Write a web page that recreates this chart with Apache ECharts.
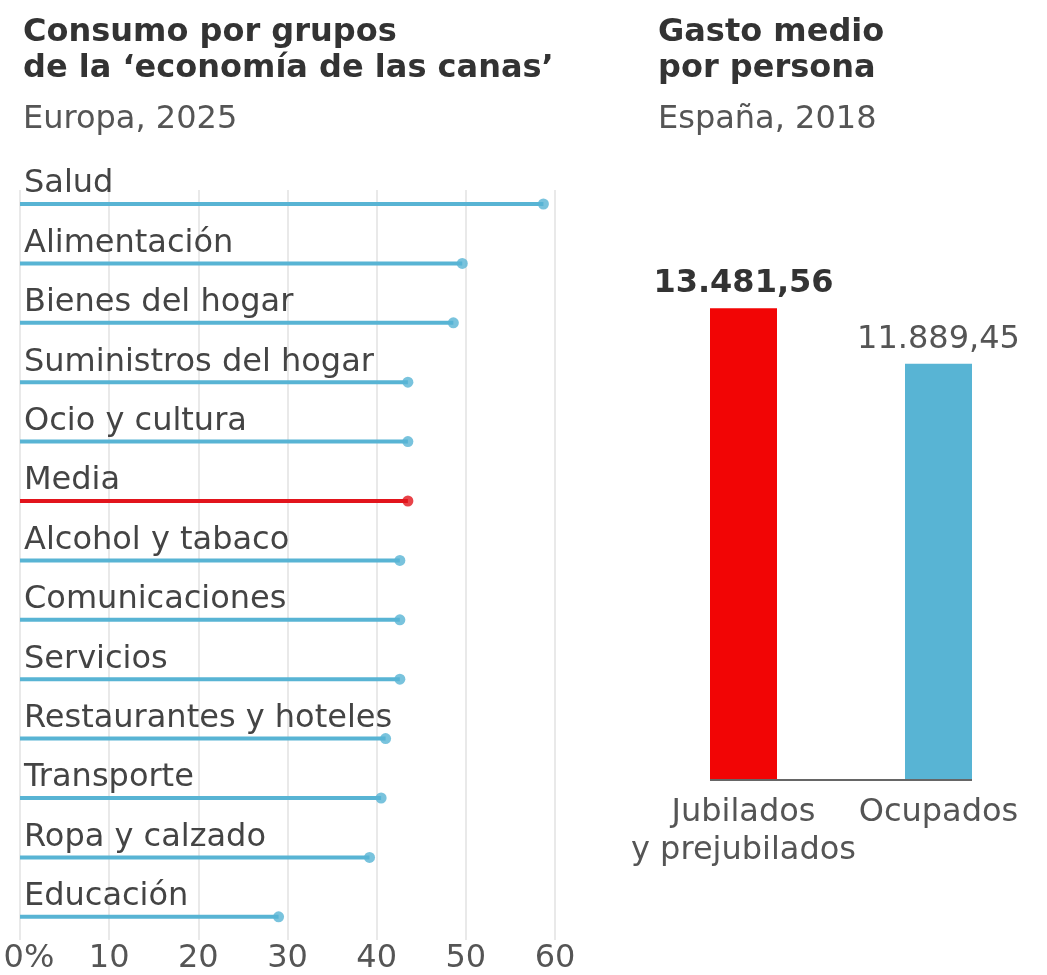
<!DOCTYPE html>
<html><head><meta charset="utf-8">
<script src="https://cdn.jsdelivr.net/npm/echarts@6/dist/echarts.min.js"></script>
<style>html,body{margin:0;padding:0;background:#fff}#c{width:1047px;height:975px}</style>
</head><body><div id="c"></div>
<script>
const categories = ['Salud','Alimentación','Bienes del hogar','Suministros del hogar','Ocio y cultura','Media','Alcohol y tabaco','Comunicaciones','Servicios','Restaurantes y hoteles','Transporte','Ropa y calzado','Educación'];
const consumo = [58.7, 49.6, 48.6, 43.5, 43.5, 43.5, 42.6, 42.6, 42.6, 41.0, 40.5, 39.2, 29.0];
const highlight = 'Media';
const gastoCats = ['Jubilados\ny prejubilados', 'Ocupados'];
const gasto = [13481.56, 11889.45];

const BLUE = '#58b4d4', RED = '#f20505', RED_LINE = '#e2141c';
const FONT = 'DejaVu Sans';
const FS = 32;
const BAR_W = 67;
function fmtEs(v){
  const p = v.toFixed(2).split('.');
  return p[0].replace(/\B(?=(\d{3})+(?!\d))/g, '.') + ',' + p[1];
}
const colorOf = c => c === highlight ? RED_LINE : BLUE;

const chart = echarts.init(document.getElementById('c'));
chart.setOption({
  animation: false,
  textStyle: {fontFamily: FONT},
  title: [
    {text: 'Consumo por grupos\nde la ‘economía de las canas’', subtext: 'Europa, 2025', left: 18, top: 10, itemGap: 15,
     textStyle: {fontFamily: FONT, fontSize: FS, fontWeight: 'bold', color: '#333', lineHeight: 36},
     subtextStyle: {fontFamily: FONT, fontSize: FS, color: '#555', lineHeight: 36}},
    {text: 'Gasto medio\npor persona', subtext: 'España, 2018', left: 653, top: 10, itemGap: 15,
     textStyle: {fontFamily: FONT, fontSize: FS, fontWeight: 'bold', color: '#333', lineHeight: 36},
     subtextStyle: {fontFamily: FONT, fontSize: FS, color: '#555', lineHeight: 36}}
  ],
  grid: [
    {left: 20, width: 535, top: 190, height: 750},
    {left: 20, width: 535, top: 174.3, height: 772.2},
    {left: 646, width: 390, top: 255, height: 525}
  ],
  xAxis: [
    {gridIndex: 0, type: 'value', min: 0, max: 60, interval: 10,
     axisLine: {show: false}, axisTick: {show: false},
     splitLine: {lineStyle: {color: '#e2e2e2', width: 1.5}},
     axisLabel: {fontFamily: FONT, fontSize: FS, color: '#555', margin: 3,
       formatter: v => v === 0 ? '{a|0%}' : String(v),
       rich: {a: {fontFamily: FONT, fontSize: FS, color: '#555', padding: [0, 0, 0, 18]}}}},
    {gridIndex: 1, type: 'value', min: 0, max: 60, show: false},
    {gridIndex: 2, type: 'category', data: gastoCats,
     axisLine: {show: false}, axisTick: {show: false},
     axisLabel: {interval: 0, hideOverlap: false, fontFamily: FONT, fontSize: FS, color: '#555', lineHeight: 38, margin: 14}}
  ],
  yAxis: [
    {gridIndex: 0, type: 'value', show: false},
    {gridIndex: 1, type: 'category', data: categories, inverse: true, show: false},
    {gridIndex: 2, type: 'value', min: 0, max: 15000, show: false}
  ],
  series: [
    {type: 'bar', xAxisIndex: 1, yAxisIndex: 1, barWidth: 4, z: 3,
     data: consumo.map((v, i) => ({value: v, itemStyle: {color: colorOf(categories[i])}})),
     label: {show: true, position: [4, -2], align: 'left', verticalAlign: 'bottom',
       formatter: p => categories[p.dataIndex], fontFamily: FONT, fontSize: FS, color: '#444', lineHeight: 32}},
    {type: 'scatter', xAxisIndex: 1, yAxisIndex: 1, symbolSize: 11, z: 4,
     data: consumo.map((v, i) => ({value: v, itemStyle: {color: colorOf(categories[i])}}))},
    {type: 'bar', xAxisIndex: 2, yAxisIndex: 2, barWidth: BAR_W, z: 2,
     data: gasto.map((v, i) => ({value: v, itemStyle: {color: i === 0 ? RED : BLUE},
       label: {fontWeight: i === 0 ? 'bold' : 'normal', color: i === 0 ? '#333' : '#555'}})),
     label: {show: true, position: 'top', distance: 8, fontFamily: FONT, fontSize: FS,
       formatter: p => fmtEs(p.value)}},
    {type: 'custom', xAxisIndex: 2, yAxisIndex: 2, z: 5, silent: true,
     data: [[0, 0]],
     renderItem: (params, api) => {
       const a = api.coord([0, 0]);
       const b = api.coord([gastoCats.length - 1, 0]);
       return {type: 'line', shape: {x1: a[0] - BAR_W / 2, y1: a[1], x2: b[0] + BAR_W / 2, y2: b[1]},
               style: {stroke: '#666', lineWidth: 2}};
     }}
  ]
});
</script></body></html>
